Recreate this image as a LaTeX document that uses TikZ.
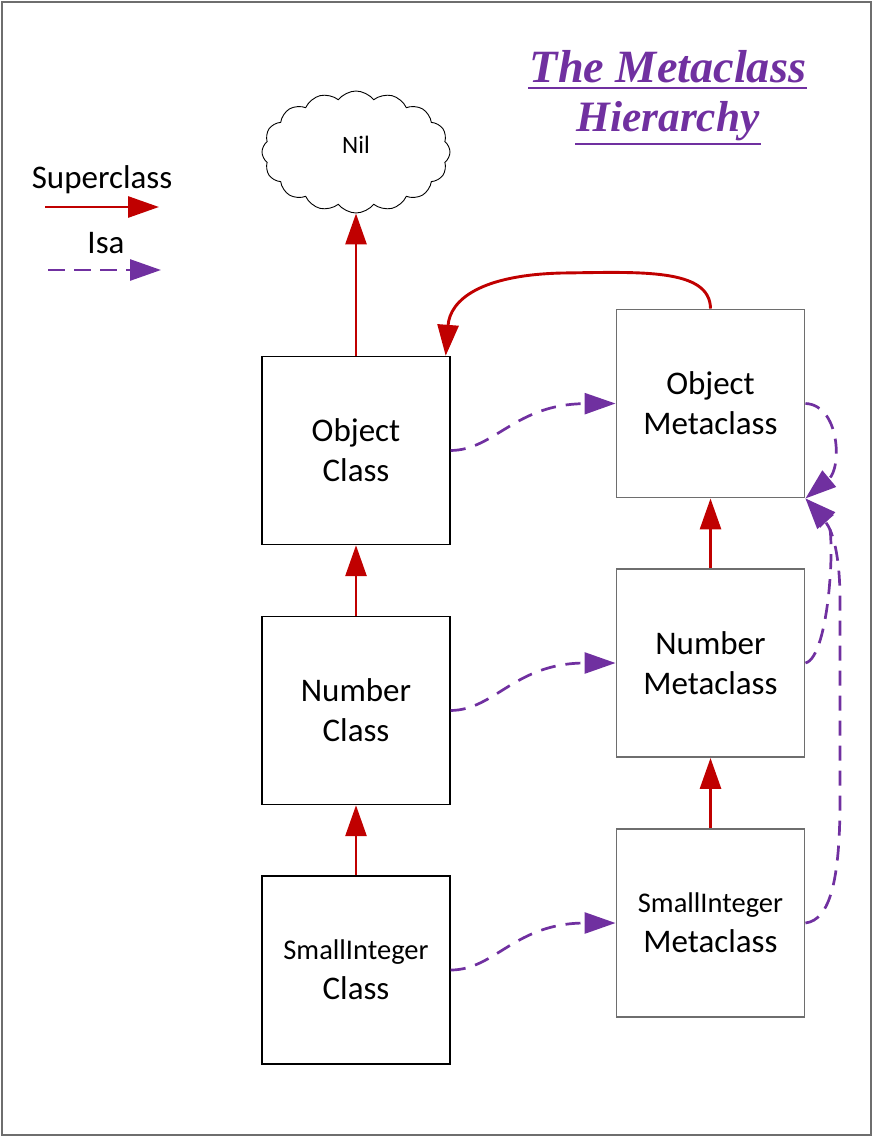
\documentclass[tikz,border=0pt]{standalone}
\usepackage{fontspec}
\setmainfont{Carlito}
\newfontfamily\titlefont{Liberation Serif}
\usetikzlibrary{arrows.meta,shapes.symbols,calc}
\definecolor{sred}{HTML}{C00000}
\definecolor{ipurple}{HTML}{7030A0}
\definecolor{boxgray}{HTML}{6E6E6E}
\begin{document}
\begin{tikzpicture}[x=1pt,y=-1pt,
  classbox/.style={draw=black, line width=1.4pt, minimum width=188pt, minimum height=188pt, inner sep=0pt, align=center, font=\fontsize{33}{40}\selectfont},
  metabox/.style={classbox, draw=boxgray, line width=1.9pt},
  super/.style={draw=sred, line width=2.9pt, -{Triangle[length=31pt,width=21pt]}},
  isa/.style={draw=ipurple, line width=2.7pt, dash pattern=on 15pt off 10pt, -{Triangle[length=31pt,width=21pt]}},
  lbl/.style={font=\fontsize{33}{40}\selectfont, inner sep=0pt},
  ttl/.style={text=ipurple, inner sep=0pt, font=\titlefont\bfseries\itshape}]
\useasboundingbox (0,0) rectangle (873,1138);
\draw[boxgray, line width=2pt] (1.5,2) rectangle (871,1135);

% title
\node[ttl] (title1) at (668,67) {\resizebox{276pt}{!}{The Metaclass}};
\node[ttl] (title2) at (668,121) {\resizebox{183pt}{!}{Hierarchy}};
\draw[ipurple, line width=2.4pt] (528,88) -- (807,88);
\draw[ipurple, line width=2.4pt] (575,144) -- (761,144);

% legend
\node[lbl] (lsup) at (102,180) {Superclass};
\coordinate (ls1) at (45,207);
\coordinate (ls2) at (159,207);
\draw[super] (ls1) -- (ls2);
\node[lbl] (lisa) at (106,243) {Isa};
\coordinate (li1) at (48,270);
\coordinate (li2) at (161,270);
\draw[isa, dash pattern=on 17pt off 9pt] (li1) -- (li2);

% nodes
\node[cloud, draw=black, line width=0.9pt, cloud puffs=16, cloud puff arc=105, aspect=1.6, minimum width=188pt, minimum height=122pt, inner sep=0pt] (nil) at (356,152) {};
\node[inner sep=0pt, font=\fontsize{25}{30}\selectfont] (niltext) at (356,145) {Nil};
\node[classbox] (OC) at (356,450.5) {Object\\Class};
\node[classbox] (NC) at (356,710.5) {Number\\Class};
\node[classbox] (SC) at (356,970) {{\fontsize{28.5}{40}\selectfont SmallInteger}\\Class};
\node[metabox] (OM) at (710.5,403.5) {Object\\Metaclass};
\node[metabox] (NM) at (710.5,663) {Number\\Metaclass};
\node[metabox] (SM) at (710.5,923) {{\fontsize{28.5}{40}\selectfont SmallInteger}\\Metaclass};

% superclass arrows
\draw[super] (OC.north) -- (nil.south);
\draw[super] (NC.north) -- (OC.south);
\draw[super] (SC.north) -- (NC.south);
\draw[super] (NM.north) -- (OM.south);
\draw[super] (SM.north) -- (NM.south);
\coordinate (octip) at ($(OC.north east)+(-5,0)$);
\draw[super] (OM.north) .. controls (710,268) and (640,272) .. (562,273) .. controls (480,275) and (450,300) .. (octip);

% isa arrows
\draw[isa] (OC.east) .. controls (495,450) and (515,404) .. (OM.west);
\draw[isa] (NC.east) .. controls (495,710) and (515,663) .. (NM.west);
\draw[isa] (SC.east) .. controls (495,970) and (515,923) .. (SM.west);
\draw[isa] (OM.east) .. controls (840,405) and (842,468) .. (OM.south east);
\draw[isa] (NM.east) .. controls (830,657) and (836,528) .. (OM.south east);
\draw[isa] (SM.east) .. controls (830,920) and (840,880) .. (840,800) -- (840,600) .. controls (840,560) and (834,532) .. (OM.south east);
\end{tikzpicture}
\end{document}
